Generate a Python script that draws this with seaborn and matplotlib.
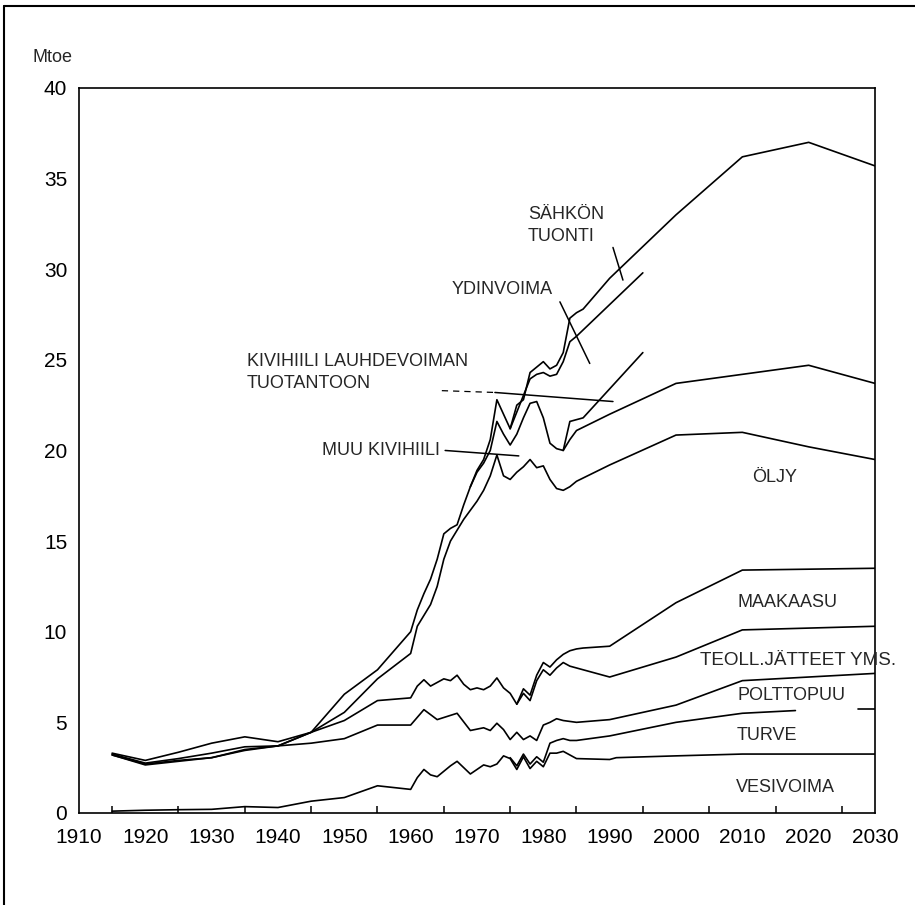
import matplotlib
matplotlib.use("Agg")
import matplotlib.pyplot as plt
from matplotlib.lines import Line2D
import seaborn as sns
import pandas as pd

# --- kumulatiiviset rajaviivat (Mtoe), luettu kuvasta ---
vesi_v = [1915, 1920, 1925, 1930, 1935, 1940, 1945, 1950, 1955, 1960, 1961, 1962, 1963, 1964,
          1965, 1966, 1967, 1968, 1969, 1970, 1971, 1972, 1973, 1974, 1975, 1976, 1977, 1978,
          1979, 1980, 1981, 1982, 1983, 1984, 1985, 1990, 1991, 2000, 2010, 2030]
vesi_y = [0.1, 0.15, 0.18, 0.2, 0.35, 0.3, 0.65, 0.85, 1.5, 1.3, 1.95, 2.4, 2.1, 2.0,
          2.3, 2.6, 2.85, 2.5, 2.15, 2.4, 2.65, 2.55, 2.7, 3.15, 3.0, 2.4, 3.1, 2.45,
          2.85, 2.55, 3.3, 3.3, 3.4, 3.2, 3.0, 2.95, 3.05, 3.15, 3.25, 3.25]

turve_v = [1975, 1976, 1977, 1978, 1979, 1980, 1981, 1982, 1983, 1984, 1985, 1990, 2000, 2010, 2018]
turve_y = [3.05, 2.6, 3.25, 2.7, 3.1, 2.8, 3.85, 4.0, 4.1, 4.0, 4.0, 4.25, 5.0, 5.5, 5.65]
turve_loppu_v = [2027.5, 2030]
turve_loppu_y = [5.75, 5.75]

puu_v = [1915, 1920, 1925, 1930, 1935, 1940, 1945, 1950, 1955, 1960, 1962, 1964, 1967, 1969,
         1971, 1972, 1973, 1974, 1975, 1976, 1977, 1978, 1979, 1980, 1981, 1982, 1983, 1985,
         1990, 2000, 2010, 2030]
puu_y = [3.2, 2.65, 2.85, 3.05, 3.45, 3.7, 3.85, 4.1, 4.85, 4.85, 5.7, 5.15, 5.5, 4.55,
         4.7, 4.55, 4.95, 4.6, 4.05, 4.45, 4.05, 4.25, 4.0, 4.85, 5.0, 5.2, 5.1, 5.0,
         5.15, 5.95, 7.3, 7.7]

jate_v = [1915, 1920, 1925, 1930, 1935, 1940, 1945, 1950, 1955, 1960, 1961, 1962, 1963, 1964,
          1965, 1966, 1967, 1968, 1969, 1970, 1971, 1972, 1973, 1974, 1975, 1976, 1977, 1978,
          1979, 1980, 1981, 1982, 1983, 1984, 1985, 1990, 2000, 2010, 2030]
jate_y = [3.2, 2.7, 2.9, 3.05, 3.5, 3.7, 4.45, 5.1, 6.2, 6.35, 7.0, 7.35, 7.0, 7.2,
          7.4, 7.3, 7.6, 7.1, 6.8, 6.9, 6.8, 7.0, 7.45, 6.9, 6.6, 6.0, 6.6, 6.2,
          7.3, 7.9, 7.6, 8.0, 8.3, 8.1, 8.0, 7.5, 8.6, 10.1, 10.3]

kaasu_v = [1976, 1977, 1978, 1979, 1980, 1981, 1982, 1983, 1984, 1985, 1986, 1990, 2000, 2010, 2030]
kaasu_y = [6.0, 6.85, 6.5, 7.6, 8.3, 8.05, 8.45, 8.75, 8.95, 9.05, 9.1, 9.2, 11.6, 13.4, 13.5]

oljy_v = [1915, 1920, 1925, 1930, 1935, 1940, 1945, 1950, 1955, 1960, 1961, 1962, 1963, 1964,
          1965, 1966, 1967, 1968, 1969, 1970, 1971, 1972, 1973, 1974, 1975, 1976, 1977, 1978,
          1979, 1980, 1981, 1982, 1983, 1984, 1985, 1990, 2000, 2010, 2020, 2030]
oljy_y = [3.25, 2.75, 3.0, 3.3, 3.65, 3.7, 4.45, 5.55, 7.4, 8.8, 10.3, 10.9, 11.5, 12.5,
          14.0, 15.0, 15.6, 16.2, 16.7, 17.2, 17.8, 18.6, 19.75, 18.6, 18.4, 18.8, 19.1, 19.5,
          19.05, 19.15, 18.4, 17.9, 17.8, 18.0, 18.3, 19.2, 20.85, 21.0, 20.2, 19.5]

muuhiili_v = [1983, 1984, 1985, 1990, 2000, 2010, 2020, 2030]
muuhiili_y = [20.0, 20.6, 21.1, 22.0, 23.7, 24.2, 24.7, 23.7]

lauhde_v = [1969, 1970, 1971, 1972, 1973, 1974, 1975, 1976, 1977, 1978, 1979, 1980, 1981,
            1982, 1983, 1984, 1985, 1986, 1995]
lauhde_y = [18.0, 18.8, 19.3, 20.0, 21.6, 20.9, 20.3, 20.9, 21.8, 22.6, 22.7, 21.8, 20.4,
            20.1, 20.0, 21.6, 21.7, 21.8, 25.4]

ydin_v = [1975, 1978, 1979, 1980, 1981, 1982, 1983, 1984, 1985, 1995]
ydin_y = [21.2, 23.95, 24.2, 24.3, 24.1, 24.2, 24.9, 26.0, 26.3, 29.8]

yht_v = [1915, 1920, 1925, 1930, 1935, 1940, 1945, 1950, 1955, 1960, 1961, 1962, 1963, 1964,
         1965, 1966, 1967, 1968, 1969, 1970, 1971, 1972, 1973, 1974, 1975, 1976, 1977, 1978,
         1979, 1980, 1981, 1982, 1983, 1984, 1985, 1986, 1990, 2000, 2010, 2020, 2030]
yht_y = [3.3, 2.9, 3.35, 3.85, 4.2, 3.93, 4.45, 6.55, 7.9, 10.0, 11.2, 12.1, 12.9, 14.0,
         15.4, 15.7, 15.9, 17.0, 18.0, 18.9, 19.5, 20.6, 22.8, 22.0, 21.2, 22.5, 22.8, 24.3,
         24.6, 24.9, 24.5, 24.7, 25.4, 27.3, 27.6, 27.8, 29.5, 33.0, 36.2, 37.0, 35.7]

viivat = {
    "vesivoima": (vesi_v, vesi_y),
    "turve": (turve_v, turve_y),
    "turve_loppu": (turve_loppu_v, turve_loppu_y),
    "polttopuu": (puu_v, puu_y),
    "jatteet": (jate_v, jate_y),
    "maakaasu": (kaasu_v, kaasu_y),
    "oljy": (oljy_v, oljy_y),
    "muu_kivihiili": (muuhiili_v, muuhiili_y),
    "lauhde": (lauhde_v, lauhde_y),
    "ydinvoima": (ydin_v, ydin_y),
    "sahkon_tuonti": (yht_v, yht_y),
}

rows = []
for nimi, (vv, yy) in viivat.items():
    for v, y in zip(vv, yy):
        rows.append({"viiva": nimi, "vuosi": v, "mtoe": y})
df = pd.DataFrame(rows)

sns.set_theme(style="white")
plt.rcParams["font.family"] = ["Liberation Sans", "DejaVu Sans"]

fig = plt.figure(figsize=(9.15, 9.05), dpi=100)
ax = fig.add_axes([0.0863, 0.1017, 0.870, 0.8011])

sns.lineplot(data=df, x="vuosi", y="mtoe", units="viiva", estimator=None,
             color="black", linewidth=1.2, legend=False, ax=ax)

ax.set_xlim(1910, 2030)
ax.set_ylim(0, 40)
ax.set_xticks(range(1910, 2031, 10))
ax.set_xticks(range(1915, 2030, 10), minor=True)
ax.set_yticks(range(0, 41, 5))
ax.set_xlabel("")
ax.set_ylabel("")
ax.tick_params(which="major", direction="inout", length=13, width=1.1,
               color="black", labelsize=15, labelcolor="black")
ax.tick_params(axis="x", which="major", pad=4)
ax.tick_params(axis="y", which="major", pad=2)
ax.tick_params(axis="x", which="minor", direction="in", length=5, width=1.1,
               color="black", bottom=True)
for s in ax.spines.values():
    s.set_color("black")
    s.set_linewidth(1.2)

fs = 13
# alueiden nimet oikealla
ax.text(2011.5, 18.5, "ÖLJY", fontsize=fs, va="center")
ax.text(2009.2, 11.6, "MAAKAASU", fontsize=fs, va="center")
ax.text(2003.6, 8.4, "TEOLL.JÄTTEET YMS.", fontsize=13.6, va="center", clip_on=False)
ax.text(2009.2, 6.5, "POLTTOPUU", fontsize=fs, va="center")
ax.text(2009.1, 4.25, "TURVE", fontsize=fs, va="center")
ax.text(2009.0, 1.4, "VESIVOIMA", fontsize=fs, va="center")

# nimet johtoviivoineen
ax.text(1964.4, 20.0, "MUU KIVIHIILI", fontsize=fs, va="center", ha="right")
ax.plot([1965.2, 1976.3], [20.0, 19.7], color="black", lw=1.1)

ax.text(1935.3, 24.9, "KIVIHIILI LAUHDEVOIMAN", fontsize=fs, va="center")
ax.text(1935.3, 23.7, "TUOTANTOON", fontsize=fs, va="center")
ax.plot([1964.7, 1972.7], [23.3, 23.2], color="black", lw=0.9, ls=(0, (5, 4)))
ax.plot([1972.7, 1990.5], [23.2, 22.7], color="black", lw=1.1)

ax.text(1966.2, 28.9, "YDINVOIMA", fontsize=fs, va="center")
ax.plot([1982.5, 1987.0], [28.2, 24.8], color="black", lw=1.1)

ax.text(1977.7, 33.0, "SÄHKÖN", fontsize=fs, va="center")
ax.text(1977.7, 31.8, "TUONTI", fontsize=fs, va="center")
ax.plot([1990.5, 1992.0], [31.2, 29.4], color="black", lw=1.1)

fig.text(33 / 915, 1 - 57 / 905, "Mtoe", fontsize=13, va="center")

# kuvan kehys (vasen ja ylä)
fig.add_artist(Line2D([4 / 915, 4 / 915], [0, 1 - 6 / 905], transform=fig.transFigure,
                      color="black", lw=1.5))
fig.add_artist(Line2D([4 / 915, 1.0], [1 - 6 / 905, 1 - 6 / 905],
                      transform=fig.transFigure, color="black", lw=1.5))

fig.savefig("out.png", dpi=100)
